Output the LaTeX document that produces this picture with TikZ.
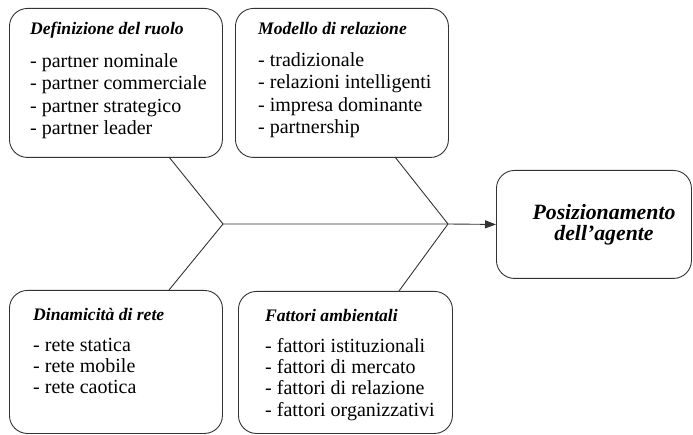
\documentclass[tikz,border=0pt]{standalone}
\usepackage{fontspec}
\setmainfont{Liberation Serif}
\usetikzlibrary{arrows.meta}
\tikzset{
  box/.style={draw=black!80, line width=0.9pt, rounded corners=18pt, anchor=north west, inner sep=0pt},
  ttl/.style={font=\fontsize{17.6}{21}\selectfont\bfseries\itshape, anchor=base west, inner sep=0pt},
  lst/.style={font=\fontsize{20}{22.5}\selectfont, align=left, anchor=north west, inner sep=0pt},
  lstb/.style={font=\fontsize{20}{21.3}\selectfont, align=left, anchor=north west, inner sep=0pt},
  big/.style={font=\fontsize{21.8}{21}\selectfont\bfseries\itshape, align=center, anchor=north, inner sep=0pt},
  conn/.style={draw=black!80, line width=0.9pt},
}
\newcommand{\firststrut}{\rule{0pt}{15pt}}
\newcommand{\bigstrut}{\rule{0pt}{17pt}}
\begin{document}
\begin{tikzpicture}[x=1pt,y=-1pt]
\useasboundingbox (0,0) rectangle (693,435);
% boxes
\node[box, minimum width=213pt, minimum height=149pt] (b1) at (9,8) {};
\node[box, minimum width=213pt, minimum height=149pt] (b2) at (235,8) {};
\node[box, minimum width=213pt, minimum height=143pt] (b3) at (9,290) {};
\node[box, minimum width=214pt, minimum height=142pt] (b4) at (238,291) {};
\node[box, minimum width=195pt, minimum height=108pt] (b5) at (496,170) {};
% texts
\node[ttl] (t1) at (30,35) {Definizione del ruolo};
\node[lst] (l1) at (30,52) {\firststrut- partner nominale\\- partner commerciale\\- partner strategico\\- partner leader};
\node[ttl] (t2) at (258,35) {Modello di relazione};
\node[lst] (l2) at (258,51) {\firststrut- tradizionale\\- relazioni intelligenti\\- impresa dominante\\- partnership};
\node[ttl] (t3) at (33,321) {Dinamicità di rete};
\node[lstb] (l3) at (33,336) {\firststrut- rete statica\\- rete mobile\\- rete caotica};
\node[ttl] (t4) at (265,322) {Fattori ambientali};
\node[lstb] (l4) at (265,337) {\firststrut- fattori istituzionali\\- fattori di mercato\\- fattori di relazione\\- fattori organizzativi};
\node[big] (t5) at (604,202) {\bigstrut Posizionamento\\dell’agente};
% fishbone
\coordinate (p1) at (169,157);
\coordinate (p2) at (395,157);
\coordinate (p3) at (169,290);
\coordinate (p4) at (399,291);
\coordinate (j1) at (223,224);
\coordinate (j2) at (448,224);
\draw[conn] (p1) -- (j1) -- (p3);
\draw[conn] (p2) -- (j2) -- (p4);
\draw[conn, -{Triangle[length=11pt,width=8pt]}] (j1) -- (j2) -- (b5.west);
\end{tikzpicture}
\end{document}
